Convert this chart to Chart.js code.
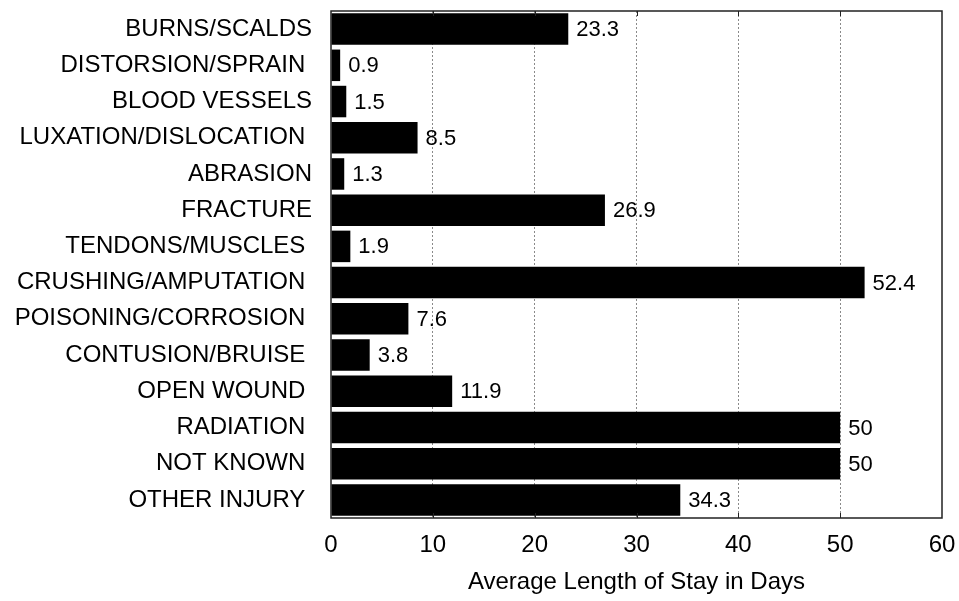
<!DOCTYPE html>
<html>
<head>
<meta charset="utf-8">
<script src="https://cdn.jsdelivr.net/npm/chart.js@4.4.1/dist/chart.umd.min.js"></script>
<style>
  html, body { margin: 0; padding: 0; background: #fff; }
  #wrap { width: 959px; height: 601px; }
</style>
</head>
<body>
<div id="wrap"><canvas id="stayChart" width="959" height="601"></canvas></div>
<script>
// injury types (trailing spaces kept as in the original labels)
const injuries = [
  "BURNS/SCALDS", "DISTORSION/SPRAIN ", "BLOOD VESSELS", "LUXATION/DISLOCATION ",
  "ABRASION", "FRACTURE", "TENDONS/MUSCLES ", "CRUSHING/AMPUTATION ",
  "POISONING/CORROSION ", "CONTUSION/BRUISE ", "OPEN WOUND ", "RADIATION ",
  "NOT KNOWN ", "OTHER INJURY "
];
const avgStay = [23.3, 0.9, 1.5, 8.5, 1.3, 26.9, 1.9, 52.4, 7.6, 3.8, 11.9, 50, 50, 34.3];
const stayLabels = ["23.3", "0.9", "1.5", "8.5", "1.3", "26.9", "1.9", "52.4", "7.6", "3.8", "11.9", "50", "50", "34.3"];
const xTicks = [0, 10, 20, 30, 40, 50, 60];

const FONT = "'Liberation Sans', Arial, sans-serif";

// frame around the plot + small inner tick marks
const framePlugin = {
  id: "frame",
  afterDatasetsDraw(chart) {
    const { ctx, chartArea: a, scales } = chart;
    ctx.save();
    ctx.strokeStyle = "#222";
    ctx.lineWidth = 1.5;
    ctx.strokeRect(a.left, a.top, a.right - a.left, a.bottom - a.top);
    ctx.lineWidth = 1;
    xTicks.slice(1, -1).forEach(v => {
      const x = Math.round(scales.x.getPixelForValue(v)) + 0.5;
      ctx.beginPath();
      ctx.moveTo(x, a.bottom); ctx.lineTo(x, a.bottom - 5);
      ctx.moveTo(x, a.top); ctx.lineTo(x, a.top + 5);
      ctx.stroke();
    });
    ctx.restore();
  }
};

// value labels at the end of each bar
const valuePlugin = {
  id: "values",
  afterDatasetsDraw(chart) {
    const { ctx } = chart;
    const meta = chart.getDatasetMeta(0);
    ctx.save();
    ctx.fillStyle = "#000";
    ctx.font = "22px " + FONT;
    ctx.textAlign = "left";
    ctx.textBaseline = "middle";
    meta.data.forEach((bar, i) => {
      ctx.fillText(stayLabels[i], bar.x + 8, bar.y + 1);
    });
    ctx.restore();
  }
};

const ctx = document.getElementById("stayChart").getContext("2d");

new Chart(ctx, {
  type: "bar",
  data: {
    labels: injuries,
    datasets: [{
      data: avgStay,
      backgroundColor: "#000",
      borderWidth: 0,
      barPercentage: 0.87,
      categoryPercentage: 1.0
    }]
  },
  options: {
    indexAxis: "y",
    responsive: false,
    animation: false,
    layout: { autoPadding: false, padding: { top: 11, right: 17, bottom: 4, left: 0 } },
    plugins: {
      legend: { display: false },
      tooltip: { enabled: false }
    },
    scales: {
      x: {
        min: 0,
        max: 60,
        afterBuildTicks: axis => { axis.ticks = xTicks.map(v => ({ value: v })); },
        afterFit: axis => {
          axis.height = 601 - 518 - 4;
          axis.paddingLeft = 0;
          axis.paddingRight = 0;
        },
        ticks: {
          color: "#000",
          font: { family: FONT, size: 24 },
          padding: 13
        },
        grid: {
          drawTicks: false,
          color: c => (c.tick && (c.tick.value === 0 || c.tick.value === 60)) ? "rgba(0,0,0,0)" : "#8a8a8a",
          lineWidth: 1
        },
        border: { display: false, dash: [2, 2] },
        title: {
          display: true,
          text: "Average Length of Stay in Days",
          color: "#000",
          font: { family: FONT, size: 24 },
          padding: { top: 4, bottom: 0 }
        }
      },
      y: {
        afterFit: axis => {
          axis.width = 331;
          axis.paddingTop = 0;
          axis.paddingBottom = 0;
        },
        ticks: {
          color: "#000",
          font: { family: FONT, size: 24 },
          padding: 19,
          autoSkip: false
        },
        grid: { display: false, drawTicks: false },
        border: { display: false }
      }
    }
  },
  plugins: [framePlugin, valuePlugin]
});
</script>
</body>
</html>
